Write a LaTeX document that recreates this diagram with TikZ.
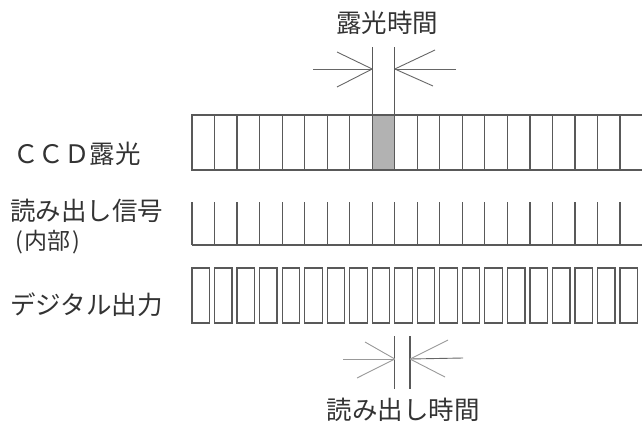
\documentclass[tikz,border=0pt]{standalone}
\usepackage{fontspec}
\newfontfamily\jpfont{Noto Sans CJK JP}
\usetikzlibrary{calc}

\begin{document}
\begin{tikzpicture}[
    x=1pt, y=-1pt,
    txt/.style={font=\jpfont\fontsize{25.5}{28}\selectfont, text=black!80, inner sep=0pt},
    cell/.style={draw=black!65, line width=1.2pt},
    ray/.style={draw=black!60, line width=0.9pt},
    faintray/.style={draw=black!40, line width=0.9pt}
  ]

  \useasboundingbox (0,0) rectangle (642,423);

  % row labels

  \node (ccdexp)  [txt, anchor=west] at (13,154)  {ＣＣＤ露光};
  \node (readsig) [txt, anchor=west] at (10,211)  {読み出し信号};
  \node (inner)   [txt, anchor=west, font=\jpfont\fontsize{23}{25}\selectfont]
                                    at (15,242)  {(\kern2pt 内部\kern2pt)};
  \node (digout)  [txt, anchor=west] at (10,305)  {デジタル出力};

  % ccd exposure row, one cell shaded

  \fill[black!30] (372.2,115) rectangle (394.8,170);
  \draw[cell] (642,115) -- (192,115) -- (192,170) -- (642,170);
  \foreach \i in {1,...,19}
    \draw[cell] (192+22.53*\i,115) -- ++(0,55);

  % readout signal row

  \draw[cell] (192,245) -- (642,245);
  \foreach \i in {0,...,19}
    \draw[cell] (192+22.53*\i,245) -- ++(0,-43);

  % digital output row

  \foreach \i in {0,...,19}
    \draw[cell] (192+22.53*\i,268) rectangle ++(17.5,55);

  % exposure time marker

  \node (exptime) [txt] at (387,23) {露光時間};
  \coordinate (expl) at (372.2,69);
  \coordinate (expr) at (394.8,69);
  \draw[cell] (372.2,47) -- (372.2,115);
  \draw[cell] (394.8,47) -- (394.8,115);
  \draw[ray] (313,69) -- (expl);
  \draw[ray] (337,52) -- (expl);
  \draw[ray] (337,87) -- (expl);
  \draw[ray] (456,69) -- (expr);
  \draw[ray] (435,50) -- (expr);
  \draw[ray] (433,86) -- (expr);

  % readout time marker

  \node (readtime) [txt] at (403,410) {読み出し時間};
  \coordinate (readl) at (394.8,359);
  \coordinate (readr) at (410,359);
  \draw[cell] (394.8,336) -- (394.8,389);
  \draw[cell] (410,336) -- (410,389);
  \draw[faintray] (343,359) -- (readl);
  \draw[faintray] (365,342) -- (readl);
  \draw[faintray] (357,378) -- (readl);
  \draw[ray] (463,358) -- (readr);
  \draw[faintray] (448,340) -- (readr);
  \draw[faintray] (445,377) -- (readr);

\end{tikzpicture}
\end{document}
